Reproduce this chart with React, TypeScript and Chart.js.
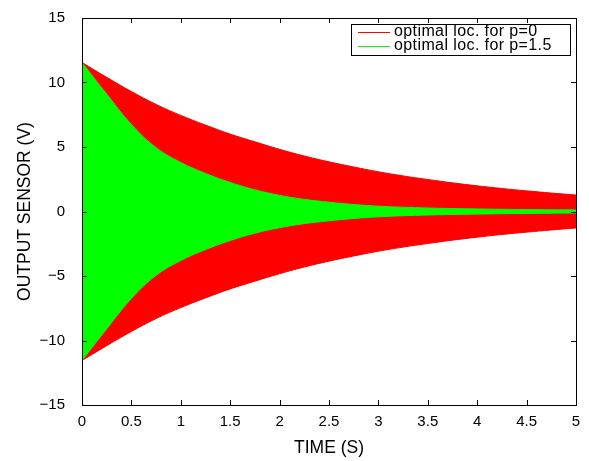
import React, { useEffect, useRef } from "react";
import { Chart, registerables } from "chart.js";

Chart.register(...registerables);

// Time samples (s)
const timeValues = [0, 0.25, 0.5, 0.75, 1, 1.25, 1.5, 1.75, 2, 2.25, 2.5, 2.75, 3, 3.25, 3.5, 3.75, 4, 4.25, 4.5, 4.75, 5];

// Envelope of the oscillating output, optimal location for p=0 (red)
const redUpper = [11.55, 10.4, 9.3, 8.3, 7.45, 6.7, 6.0, 5.4, 4.82, 4.3, 3.85, 3.45, 3.08, 2.76, 2.48, 2.22, 1.99, 1.78, 1.6, 1.43, 1.28];
const redLower = [-11.55, -10.4, -9.3, -8.3, -7.45, -6.7, -6.0, -5.4, -4.82, -4.3, -3.85, -3.45, -3.08, -2.76, -2.48, -2.22, -1.99, -1.78, -1.6, -1.43, -1.28];

// Envelope of the oscillating output, optimal location for p=1.5 (green)
const greenUpper = [11.55, 9.1, 6.75, 4.95, 3.8, 2.95, 2.25, 1.68, 1.25, 0.94, 0.72, 0.54, 0.41, 0.33, 0.27, 0.23, 0.2, 0.17, 0.15, 0.13, 0.12];
const greenLower = [-11.55, -9.1, -6.75, -4.95, -3.8, -2.95, -2.25, -1.68, -1.25, -0.94, -0.72, -0.54, -0.41, -0.33, -0.27, -0.23, -0.2, -0.17, -0.15, -0.13, -0.12];

const seriesLabels = ["optimal loc. for p=0", "optimal loc. for p=1.5"];
const seriesColors = ["#ff0000", "#00ff00"];

const xTickValues = [0, 0.5, 1, 1.5, 2, 2.5, 3, 3.5, 4, 4.5, 5];
const xTickLabels = ["0", "0.5", "1", "1.5", "2", "2.5", "3", "3.5", "4", "4.5", "5"];
const yTickValues = [-15, -10, -5, 0, 5, 10, 15];
const yTickLabels = ["\u221215", "\u221210", "\u22125", "0", "5", "10", "15"];

const FONT = "'Liberation Sans', Arial, Helvetica, sans-serif";

const toPoints = (ys: number[]) => ys.map((y, i) => ({ x: timeValues[i], y }));

const boxPlugin = {
  id: "matlabBox",
  afterDatasetsDraw(chart: any) {
    const { ctx, chartArea, scales } = chart;
    const { left, right, top, bottom } = chartArea;
    const tl = 5;
    ctx.save();
    ctx.strokeStyle = "#000";
    ctx.lineWidth = 1;
    ctx.beginPath();
    xTickValues.forEach((v) => {
      const px = Math.round(scales.x.getPixelForValue(v)) + 0.5;
      ctx.moveTo(px, bottom);
      ctx.lineTo(px, bottom - tl);
      ctx.moveTo(px, top);
      ctx.lineTo(px, top + tl);
    });
    yTickValues.forEach((v) => {
      const py = Math.round(scales.y.getPixelForValue(v)) + 0.5;
      ctx.moveTo(left, py);
      ctx.lineTo(left + tl, py);
      ctx.moveTo(right, py);
      ctx.lineTo(right - tl, py);
    });
    ctx.stroke();
    ctx.strokeRect(Math.round(left) + 0.5, Math.round(top) + 0.5, Math.round(right - left), Math.round(bottom - top));
    ctx.restore();
  },
  afterDraw(chart: any) {
    const { ctx, chartArea } = chart;
    const boxRight = Math.round(chartArea.right - 6);
    const boxTop = Math.round(chartArea.top + 6);
    const boxW = 219;
    const boxH = 31;
    const boxLeft = boxRight - boxW;
    ctx.save();
    ctx.fillStyle = "#fff";
    ctx.fillRect(boxLeft, boxTop, boxW, boxH);
    ctx.strokeStyle = "#000";
    ctx.lineWidth = 1;
    ctx.strokeRect(boxLeft + 0.5, boxTop + 0.5, boxW, boxH);
    ctx.font = `16px ${FONT}`;
    ctx.textBaseline = "middle";
    ctx.textAlign = "left";
    try { (ctx as any).letterSpacing = "0.4px"; } catch (e) {}
    seriesLabels.forEach((label, i) => {
      const y = boxTop + 8 + i * 14;
      ctx.fillStyle = seriesColors[i];
      ctx.fillRect(boxLeft + 7, y, 32, 1);
      ctx.fillStyle = "#000";
      ctx.fillText(label, boxLeft + 43, y);
    });
    ctx.restore();
  },
};

export default function App() {
  const canvasRef = useRef<HTMLCanvasElement | null>(null);

  useEffect(() => {
    if (!canvasRef.current) return;
    Chart.defaults.color = "#000";
    Chart.defaults.font.family = FONT;
    const mk = (label: string, data: number[], color: string, fill: any, order: number) => ({
      label,
      data: toPoints(data),
      borderColor: color,
      backgroundColor: color,
      borderWidth: 1,
      pointRadius: 0,
      tension: 0.4,
      fill,
      order,
    });
    const chart = new Chart(canvasRef.current, {
      type: "line",
      data: {
        datasets: [
          mk(seriesLabels[0], redUpper, seriesColors[0], "+1", 2),
          mk(seriesLabels[0] + " (lower)", redLower, seriesColors[0], false, 2),
          mk(seriesLabels[1], greenUpper, seriesColors[1], "+1", 1),
          mk(seriesLabels[1] + " (lower)", greenLower, seriesColors[1], false, 1),
        ],
      },
      options: {
        animation: false,
        responsive: false,
        maintainAspectRatio: false,
        layout: { padding: { top: 15, right: 13, left: 0, bottom: 0 } },
        plugins: {
          legend: { display: false },
          tooltip: { enabled: false },
        },
        scales: {
          x: {
            type: "linear",
            min: 0,
            max: 5,
            grid: { display: false },
            border: { display: false },
            afterBuildTicks: (s: any) => {
              s.ticks = xTickValues.map((v) => ({ value: v }));
            },
            ticks: {
              autoSkip: false,
              maxRotation: 0,
              padding: 0,
              font: { size: 15, family: FONT },
              color: "#000",
              callback: (v: any) => {
                const i = xTickValues.indexOf(Number(v));
                return i >= 0 ? xTickLabels[i] : "";
              },
            },
            title: {
              display: true,
              text: "TIME (S)",
              font: { size: 17.5, family: FONT },
              color: "#000",
              padding: { top: 0, bottom: 2 },
            },
            afterFit: (s: any) => {
              s.height = 56;
            },
          },
          y: {
            type: "linear",
            min: -15,
            max: 15,
            grid: { display: false },
            border: { display: false },
            afterBuildTicks: (s: any) => {
              s.ticks = yTickValues.map((v) => ({ value: v }));
            },
            ticks: {
              autoSkip: false,
              padding: 9,
              font: { size: 15, family: FONT },
              color: "#000",
              callback: (v: any) => {
                const i = yTickValues.indexOf(Number(v));
                return i >= 0 ? yTickLabels[i] : "";
              },
            },
            title: {
              display: true,
              text: "OUTPUT SENSOR (V)",
              font: { size: 17.5, family: FONT },
              color: "#000",
              padding: { top: 15, bottom: 0 },
            },
            afterFit: (s: any) => {
              s.width = 82;
            },
          },
        },
      },
      plugins: [boxPlugin],
    } as any);
    return () => chart.destroy();
  }, []);

  return (
    <div style={{ position: "fixed", left: 0, top: 0, width: 589, height: 461, background: "#fff" }}>
      <canvas ref={canvasRef} width={589} height={461} style={{ display: "block", width: 589, height: 461 }} />
    </div>
  );
}
